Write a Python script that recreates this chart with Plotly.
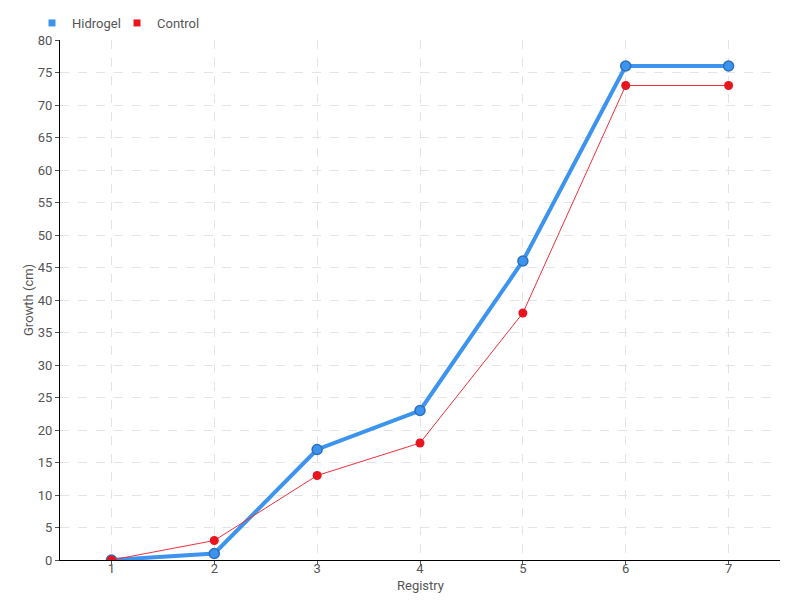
import plotly.graph_objects as go

registry = [1, 2, 3, 4, 5, 6, 7]
hidrogel = [0, 1, 17, 23, 46, 76, 76]
control = [0, 3, 13, 18, 38, 73, 73]
y_ticks = list(range(0, 81, 5))
x_title = "Registry"
y_title = "Growth (cm)"

FONT = "Roboto, Liberation Sans, sans-serif"
GREY = "#555555"
BLUE = "#3d94ee"
RED = "#e8141e"

W, H = 792, 592  # page body has an 8px margin
L, R, T, B = 52, 20, 32, 40
PW, PH = W - L - R, H - T - B

fig = go.Figure()
fig.add_trace(go.Scatter(
    x=registry, y=hidrogel, name="Hidrogel", mode="lines+markers",
    line=dict(color=BLUE, width=4), showlegend=False,
    marker=dict(size=10, color=BLUE, line=dict(color="#2a6fc0", width=1.5)),
))
fig.add_trace(go.Scatter(
    x=registry, y=control, name="Control", mode="lines+markers",
    line=dict(color="#f0303f", width=1), showlegend=False,
    marker=dict(size=9, color=RED),
))
# legend entries (square swatches)
fig.add_trace(go.Scatter(x=[None], y=[None], name="Hidrogel", mode="markers",
                         marker=dict(symbol="square", size=7, color=BLUE)))
fig.add_trace(go.Scatter(x=[None], y=[None], name="Control", mode="markers",
                         marker=dict(symbol="square", size=7, color=RED)))

fig.update_layout(
    width=W, height=H,
    paper_bgcolor="white", plot_bgcolor="white",
    margin=dict(l=L, r=R, t=T, b=B, pad=0),
    font=dict(family=FONT, size=13, color=GREY),
    showlegend=True,
    legend=dict(orientation="h", x=24 / W, y=1.0, xref="container", yref="container",
                xanchor="left", yanchor="top", font=dict(size=13, color=GREY),
                itemwidth=30, traceorder="normal",
                tracegroupgap=0, bgcolor="rgba(0,0,0,0)", borderwidth=0,
                entrywidth=40, entrywidthmode="pixels"),
    xaxis=dict(
        range=[0.5, 7.5], tickmode="array", tickvals=registry,
        ticktext=[str(r) for r in registry],
        showline=True, linecolor="black", linewidth=1,
        ticks="outside", ticklen=4, tickcolor=GREY,
        ticklabelstandoff=-8, tickfont=dict(size=13, color=GREY),
        showgrid=True, gridcolor="#e4e4e4", griddash="dash",
        zeroline=False, automargin=False,
    ),
    yaxis=dict(
        range=[0, 80], tickmode="array", tickvals=y_ticks,
        showline=True, linecolor="black", linewidth=1,
        ticks="outside", ticklen=4, tickcolor=GREY,
        tickfont=dict(size=13, color=GREY),
        showgrid=True, gridcolor="#e4e4e4", griddash="dash",
        zeroline=False, automargin=False,
    ),
    annotations=[
        dict(text=x_title, xref="paper", yref="paper", x=0.5, y=-(577 - 552) / PH,
             xanchor="center", yanchor="middle", showarrow=False,
             font=dict(size=13, color=GREY)),
        dict(text=y_title, xref="paper", yref="paper", x=(20 - L) / PW, y=0.5,
             xanchor="center", yanchor="middle", showarrow=False, textangle=-90,
             font=dict(size=13, color=GREY)),
    ],
)

fig.write_html("out.html")
